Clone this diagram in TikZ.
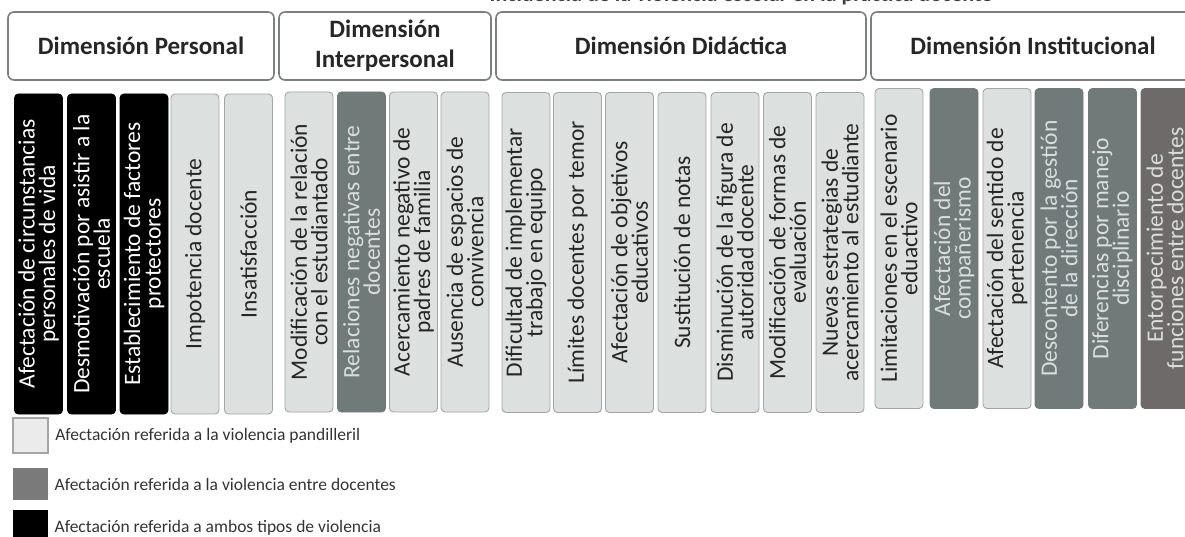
\documentclass[tikz,border=0pt]{standalone}
\usepackage{fontspec}
\setmainfont{Carlito}
\usepackage{tikz}
\usetikzlibrary{positioning}

\definecolor{pandigray}{HTML}{DCE0DF}
\definecolor{entregray}{HTML}{6F7A79}
\definecolor{entregrayb}{HTML}{6E6A69}
\definecolor{framegray}{HTML}{A3A6A6}
\definecolor{dimframe}{HTML}{7C7F7F}
\definecolor{paletext}{HTML}{D9DEDD}

\tikzset{
  dimbox/.style={draw=dimframe, line width=1.6pt, fill=white, rounded corners=6pt,
    minimum height=68pt, align=center, text=black!85,
    font=\fontsize{25}{30}\selectfont\bfseries},
  colbox/.style={rotate=90, rounded corners=4pt, line width=0.9pt, align=center,
    minimum width=320pt, minimum height=48pt, inner sep=1pt,
    font=\fontsize{23.5}{20.5}\selectfont},
  pandi/.style={colbox, draw=framegray, fill=pandigray, text=black!85},
  entre/.style={colbox, draw=entregray, fill=entregray, text=paletext},
  ambos/.style={colbox, draw=black, fill=black, text=white},
  legbox/.style={minimum width=35pt, inner sep=0pt},
  legtext/.style={right=3pt of #1, font=\fontsize{17.5}{20}\selectfont, text=black!80},
}

\begin{document}
\begin{tikzpicture}[x=1pt, y=-1pt]
    \useasboundingbox (0,0) rectangle (1185,537);
    \clip (0,0) rectangle (1185,537);

    \node[anchor=base, font=\fontsize{22}{24}\selectfont\bfseries, text=black!75] (titulo) at (741,1.5)
        {Incidencia de la violencia escolar en la práctica docente};

    \node[dimbox, minimum width=266pt] (dper) at (141,46) {Dimensión Personal};
    \node[dimbox, minimum width=212pt] (dint) at (385,46) {Dimensión\\Interpersonal};
    \node[dimbox, minimum width=370pt] (ddid) at (681,46) {Dimensión Didáctica};
    \node[dimbox, minimum width=324pt] (dins) at (1033,46) {Dimensión Institucional};

    \node[ambos] (per1) at (38.5,254) {Afectación de circunstancias\\personales de vida};
    \node[ambos] (per2) at (91.5,254) {Desmotivación por asistir a la\\escuela};
    \node[ambos] (per3) at (144,254) {Establecimiento de factores\\protectores};
    \node[pandi] (per4) at (195,254) {Impotencia docente};
    \node[pandi] (per5) at (248.5,254) {Insatisfacción};

    \node[pandi] (int1) at (309,252) {Modificación de la relación\\con el estudiantado};
    \node[entre] (int2) at (361.5,252) {Relaciones negativas entre\\docentes};
    \node[pandi] (int3) at (413.5,252) {Acercamiento negativo de\\padres de familia};
    \node[pandi] (int4) at (465,252) {Ausencia de espacios de\\convivencia};

    \node[pandi] (did1) at (526,252.5) {Dificultad de implementar\\trabajo en equipo};
    \node[pandi] (did2) at (577.5,252.5) {Límites docentes por temor};
    \node[pandi] (did3) at (629.5,252.5) {Afectación de objetivos\\educativos};
    \node[pandi] (did4) at (682,252.5) {Sustitución de notas};
    \node[pandi] (did5) at (735,252.5) {Disminución de la figura de\\autoridad docente};
    \node[pandi] (did6) at (787.5,252.5) {Modificación de formas de\\evaluación};
    \node[pandi] (did7) at (840,252.5) {Nuevas estrategias de\\acercamiento al estudiante};

    \node[pandi] (ins1) at (899,248.5) {Limitaciones en el escenario\\eduactivo};
    \node[entre] (ins2) at (954,248.5) {Afectación del\\compañerismo};
    \node[pandi] (ins3) at (1007,248.5) {Afectación del sentido de\\pertenencia};
    \node[entre] (ins4) at (1059,248.5) {Descontento por la gestión\\de la dirección};
    \node[entre] (ins5) at (1112.5,248.5) {Diferencias por manejo\\disciplinario};
    \node[entre, draw=entregrayb, fill=entregrayb] (ins6) at (1165,248.5) {Entorpecimiento de\\funciones entre docentes};

    \node[legbox, minimum height=35pt, draw=framegray, line width=1.5pt, fill=black!8] (lpan) at (30.5,435.5) {};
    \node[legtext=lpan] (tpan) {Afectación referida a la violencia pandilleril};
    \node[legbox, minimum height=32pt, fill=black!52] (lent) at (30.5,484) {};
    \node[legtext=lent] (tent) {Afectación referida a la violencia entre docentes};
    \node[legbox, minimum height=35pt, fill=black] (lamb) at (30.5,527.5) {};
    \node[legtext=lamb] (tamb) {Afectación referida a ambos tipos de violencia};
\end{tikzpicture}
\end{document}
